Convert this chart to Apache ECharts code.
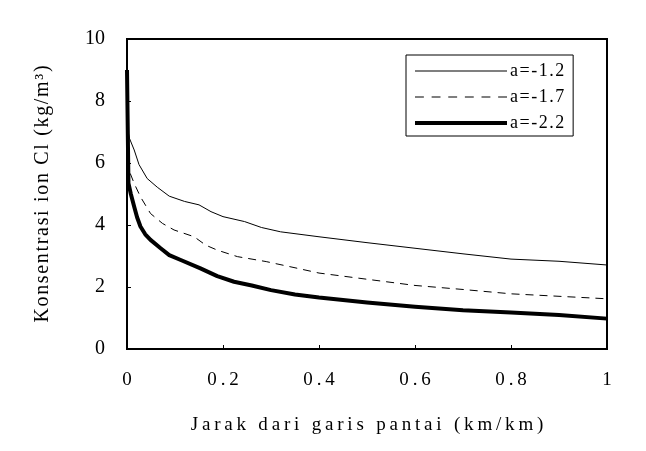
<!DOCTYPE html>
<html>
<head>
<meta charset="utf-8">
<script src="https://cdn.jsdelivr.net/npm/echarts@6/dist/echarts.min.js"></script>
<style>
  html, body { margin: 0; padding: 0; background: #fff; }
  #chart { width: 646px; height: 451px; }
</style>
</head>
<body>
<div id="chart"></div>
<script>
// data, [jarak, konsentrasi]
const seriesNames = ['a=-1.2', 'a=-1.7', 'a=-2.2']
const lineA12 = [
  [0, 7.2], [0.005, 6.8], [0.015, 6.42], [0.025, 5.95], [0.042, 5.5], [0.063, 5.22],
  [0.088, 4.93], [0.12, 4.76], [0.15, 4.65], [0.175, 4.43], [0.2, 4.27], [0.245, 4.11],
  [0.28, 3.92], [0.32, 3.78], [0.4, 3.62], [0.5, 3.43], [0.6, 3.25],
  [0.7, 3.07], [0.8, 2.9], [0.9, 2.83], [1.0, 2.71]
]
const lineA17 = [
  [0, 6.1], [0.004, 5.77], [0.015, 5.34], [0.028, 4.91], [0.049, 4.37], [0.074, 4.05],
  [0.098, 3.84], [0.14, 3.62], [0.164, 3.35], [0.188, 3.19], [0.23, 2.98], [0.29, 2.82],
  [0.35, 2.62], [0.4, 2.45], [0.5, 2.25], [0.6, 2.05],
  [0.7, 1.92], [0.8, 1.78], [0.9, 1.7], [1.0, 1.62]
]
const lineA22 = [
  [0, 9.0], [0.003, 5.35], [0.008, 5.0], [0.015, 4.59], [0.021, 4.25], [0.028, 3.95],
  [0.038, 3.7], [0.049, 3.52], [0.07, 3.25], [0.088, 3.03], [0.112, 2.87], [0.153, 2.6],
  [0.188, 2.35], [0.223, 2.17], [0.26, 2.05], [0.3, 1.9], [0.35, 1.76], [0.4, 1.66],
  [0.5, 1.5], [0.6, 1.36], [0.7, 1.25], [0.8, 1.18], [0.9, 1.1], [1.0, 0.98]
]
const lineWidths = [1, 1, 4]
const xTicks = [0, 0.2, 0.4, 0.6, 0.8, 1]
const yTicks = [0, 2, 4, 6, 8, 10]

const font = 'Liberation Serif'
const spread = (s, gap) => s.split('').join(gap || '\u200a')

// legend icons: plain bar, dashed bar, thick bar
const dashedIcon = 'path://' + [0, 15, 30, 45, 60, 75].map(x => 'M' + x + ',0h8v1h-8z').join('')
const legendIcons = ['path://M0,0H92V1H0Z', dashedIcon, 'path://M0,0H92V4H0Z']

const chart = echarts.init(document.getElementById('chart'))
chart.setOption({
  animation: false,
  grid: {
    left: 127, right: 39, top: 39, bottom: 102,
    show: true, borderColor: '#000', borderWidth: 2
  },
  legend: {
    orient: 'vertical',
    left: 406,
    top: 55,
    padding: [7, 9, 4, 9],
    itemWidth: 92,
    itemHeight: 14,
    itemGap: 8,
    symbolKeepAspect: true,
    borderColor: '#000',
    borderWidth: 1,
    textStyle: { fontFamily: font, fontSize: 18, lineHeight: 17, color: '#000', padding: [0, 0, 0, -2] },
    formatter: name => spread(name),
    data: seriesNames.map((name, i) => ({
      name: name,
      icon: legendIcons[i],
      itemStyle: { color: '#000' }
    }))
  },
  xAxis: {
    type: 'value',
    min: 0,
    max: 1,
    interval: 0.2,
    name: spread('Jarak dari garis pantai (km/km)', '\u2009'),
    nameLocation: 'middle',
    nameGap: 67,
    nameTextStyle: { fontFamily: font, fontSize: 19, color: '#000' },
    axisLine: { show: true, lineStyle: { color: '#000', width: 2 } },
    axisTick: { show: true, inside: true, length: 4, lineStyle: { color: '#000' } },
    axisLabel: {
      fontFamily: font, fontSize: 19, color: '#000', margin: 22,
      formatter: v => xTicks.includes(+v.toFixed(1)) ? spread(String(+v.toFixed(1)), '\u2009') : ''
    },
    splitLine: { show: false }
  },
  yAxis: {
    type: 'value',
    min: 0,
    max: 10,
    interval: 2,
    name: spread('Konsentrasi ion Cl (kg/m³)'),
    nameLocation: 'middle',
    nameGap: 74,
    nameTextStyle: { fontFamily: font, fontSize: 20, color: '#000' },
    axisLine: { show: true, lineStyle: { color: '#000', width: 2 } },
    axisTick: { show: true, inside: true, length: 4, lineStyle: { color: '#000' } },
    axisLabel: {
      fontFamily: font, fontSize: 20, color: '#000', margin: 22,
      formatter: v => yTicks.includes(v) ? String(v) : ''
    },
    splitLine: { show: false }
  },
  series: [
    {
      name: seriesNames[0],
      type: 'line',
      data: lineA12,
      showSymbol: false,
      symbol: 'none',
      lineStyle: { color: '#000', width: lineWidths[0] },
      itemStyle: { color: '#000' }
    },
    {
      name: seriesNames[1],
      type: 'line',
      data: lineA17,
      showSymbol: false,
      symbol: 'none',
      lineStyle: { color: '#000', width: lineWidths[1], type: [8, 6] },
      itemStyle: { color: '#000' }
    },
    {
      name: seriesNames[2],
      type: 'line',
      data: lineA22,
      showSymbol: false,
      symbol: 'none',
      lineStyle: { color: '#000', width: lineWidths[2], join: 'round' },
      itemStyle: { color: '#000' }
    }
  ]
})
</script>
</body>
</html>
